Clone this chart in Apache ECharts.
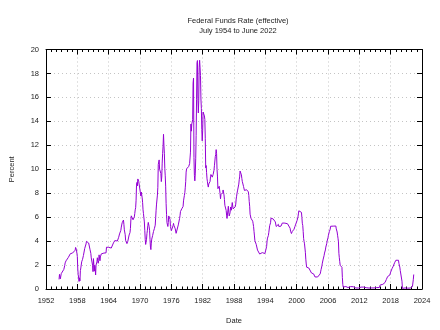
<!DOCTYPE html>
<html>
<head>
<meta charset="utf-8">
<script src="https://cdn.jsdelivr.net/npm/echarts@6/dist/echarts.min.js"></script>
<style>html,body{margin:0;padding:0;background:#fff}#c{width:440px;height:330px}</style>
</head>
<body>
<div id="c"></div>
<script>
// Monthly effective federal funds rate (percent), starting July 1954
var startYear = 1954, startMonth = 7;
var rates1950s = [
  0.80,1.22,1.07,0.85,0.83,1.28,
  1.39,1.29,1.35,1.43,1.43,1.64,1.68,1.96,2.18,2.24,2.35,2.48,
  2.45,2.50,2.50,2.62,2.75,2.71,2.75,2.73,2.95,2.96,2.88,2.94,
  2.84,3.00,2.96,3.00,3.00,3.00,2.99,3.24,3.47,3.50,3.28,2.98,
  2.72,1.67,1.20,1.26,0.63,0.93,0.68,1.53,1.76,1.80,2.27,2.42,
  2.48,2.43,2.80,2.96,2.90,3.39,3.47,3.50,3.76,3.98,4.00,3.99
];
var rates1960s = [
  3.99,3.97,3.84,3.92,3.85,3.32,3.23,2.98,2.60,2.47,2.44,1.98,
  1.45,2.54,2.02,1.49,1.98,1.73,1.17,2.00,1.88,2.26,2.61,2.33,
  2.15,2.37,2.85,2.78,2.36,2.68,2.71,2.93,2.90,2.90,2.94,2.93,
  2.92,3.00,2.98,2.90,3.00,2.99,3.02,3.49,3.48,3.50,3.48,3.38,
  3.48,3.48,3.43,3.47,3.50,3.50,3.42,3.50,3.45,3.36,3.52,3.85,
  3.90,3.98,4.04,4.09,4.10,4.04,4.09,4.12,4.01,4.08,4.10,4.32,
  4.42,4.60,4.65,4.67,4.90,5.17,5.30,5.53,5.40,5.53,5.76,5.40,
  4.94,5.00,4.53,4.05,3.94,3.98,3.79,3.90,3.99,3.88,4.13,4.51,
  4.60,4.71,5.05,5.76,6.11,6.07,6.02,6.03,5.78,5.91,5.82,6.02,
  6.30,6.61,6.79,7.41,8.67,8.90,8.61,9.19,9.15,9.00,8.85,8.97
];
var rates1970s = [
  8.98,8.98,7.76,8.10,7.95,7.61,7.21,6.61,6.29,6.20,5.60,4.90,
  4.14,3.72,3.71,4.16,4.63,4.91,5.31,5.56,5.55,5.20,4.91,4.14,
  3.50,3.29,3.83,4.17,4.27,4.46,4.55,4.80,4.87,5.04,5.06,5.33,
  5.94,6.58,7.09,7.12,7.84,8.49,10.40,10.50,10.78,10.01,10.03,9.95,
  9.65,8.97,9.35,10.51,11.31,11.93,12.92,12.01,11.34,10.06,9.45,8.53,
  7.13,6.24,5.54,5.49,5.22,5.55,6.10,6.14,6.24,5.82,5.22,5.20,
  4.87,4.77,4.84,4.82,5.29,5.48,5.31,5.29,5.25,5.02,4.95,4.65,
  4.61,4.68,4.69,4.73,5.35,5.39,5.42,5.90,6.14,6.47,6.51,6.56,
  6.70,6.78,6.79,6.89,7.36,7.60,7.81,8.04,8.45,8.96,9.76,10.03,
  10.07,10.06,10.09,10.01,10.24,10.29,10.47,10.94,11.43,13.77,13.18,13.78
];
var rates1980s = [
  13.82,14.13,17.19,17.61,10.98,9.47,9.03,9.61,10.87,12.81,15.85,18.90,
  19.08,15.93,14.70,15.72,18.52,19.10,19.04,17.82,15.87,15.08,13.31,12.37,
  13.22,14.78,14.68,14.94,14.45,14.15,12.59,10.12,10.31,9.71,9.20,8.95,
  8.68,8.51,8.77,8.80,8.63,8.98,9.37,9.56,9.45,9.48,9.34,9.47,
  9.56,9.59,9.91,10.29,10.32,11.06,11.23,11.64,11.30,9.99,9.43,8.38,
  8.35,8.50,8.58,8.27,7.97,7.53,7.88,7.90,7.92,7.99,8.05,8.27,
  8.14,7.86,7.48,6.99,6.85,6.92,6.56,6.17,5.89,5.85,6.04,6.91,
  6.43,6.10,6.13,6.37,6.85,6.73,6.58,6.73,7.22,7.29,6.69,6.77,
  6.83,6.58,6.58,6.87,7.09,7.51,7.75,8.01,8.19,8.30,8.35,8.76,
  9.12,9.36,9.85,9.84,9.81,9.53,9.24,8.99,9.02,8.84,8.55,8.45
];
var rates1990s = [
  8.23,8.24,8.28,8.26,8.18,8.29,8.15,8.13,8.20,8.11,7.81,7.31,
  6.91,6.25,6.12,5.91,5.78,5.90,5.82,5.66,5.45,5.21,4.81,4.43,
  4.03,4.06,3.98,3.73,3.82,3.76,3.25,3.30,3.22,3.10,3.09,2.92,
  3.02,3.03,3.07,2.96,3.00,3.04,3.06,3.03,3.09,2.99,3.02,2.96,
  3.05,3.25,3.34,3.56,4.01,4.25,4.26,4.47,4.73,4.76,5.29,5.45,
  5.53,5.92,5.98,6.05,6.01,6.00,5.85,5.74,5.80,5.76,5.80,5.60,
  5.56,5.22,5.31,5.22,5.24,5.27,5.40,5.22,5.30,5.24,5.31,5.29,
  5.25,5.19,5.39,5.51,5.50,5.56,5.52,5.54,5.54,5.50,5.52,5.50,
  5.56,5.51,5.49,5.45,5.49,5.56,5.54,5.55,5.51,5.07,4.83,4.68,
  4.63,4.76,4.81,4.74,4.74,4.76,4.99,5.07,5.22,5.20,5.42,5.30
];
var rates2000s = [
  5.45,5.73,5.85,6.02,6.27,6.53,6.54,6.50,6.52,6.51,6.51,6.40,
  5.98,5.49,5.31,4.80,4.21,3.97,3.77,3.65,3.07,2.49,2.09,1.82,
  1.73,1.74,1.73,1.75,1.75,1.75,1.73,1.74,1.75,1.75,1.34,1.24,
  1.24,1.26,1.25,1.26,1.26,1.22,1.01,1.03,1.01,1.01,1.00,0.98,
  1.00,1.01,1.00,1.00,1.00,1.03,1.26,1.43,1.61,1.76,1.93,2.16,
  2.28,2.50,2.63,2.79,3.00,3.04,3.26,3.50,3.62,3.78,4.00,4.16,
  4.29,4.49,4.59,4.79,4.94,4.99,5.24,5.25,5.25,5.25,5.25,5.24,
  5.25,5.26,5.26,5.25,5.25,5.25,5.26,5.02,4.94,4.76,4.49,4.24,
  3.94,2.98,2.61,2.28,1.98,2.00,2.01,2.00,1.81,0.97,0.39,0.16,
  0.15,0.22,0.18,0.15,0.18,0.21,0.16,0.16,0.15,0.12,0.12,0.12
];
var rates2010s = [
  0.11,0.13,0.16,0.20,0.20,0.18,0.18,0.19,0.19,0.19,0.19,0.18,
  0.17,0.16,0.14,0.10,0.09,0.09,0.07,0.10,0.08,0.07,0.08,0.07,
  0.08,0.10,0.13,0.14,0.16,0.16,0.16,0.13,0.14,0.16,0.16,0.16,
  0.14,0.15,0.14,0.15,0.11,0.09,0.09,0.08,0.08,0.09,0.08,0.09,
  0.07,0.07,0.08,0.09,0.09,0.10,0.09,0.09,0.09,0.09,0.09,0.12,
  0.11,0.11,0.11,0.12,0.12,0.13,0.13,0.14,0.14,0.12,0.12,0.24,
  0.34,0.38,0.36,0.37,0.37,0.38,0.39,0.40,0.40,0.40,0.41,0.54,
  0.65,0.66,0.79,0.90,0.91,1.04,1.15,1.16,1.15,1.15,1.16,1.30,
  1.41,1.42,1.51,1.69,1.70,1.82,1.91,1.91,1.95,2.19,2.20,2.27,
  2.40,2.40,2.41,2.42,2.39,2.38,2.40,2.13,2.04,1.83,1.55,1.55
];
var rates2020s = [
  1.55,1.58,0.65,0.05,0.05,0.08,0.09,0.10,0.09,0.09,0.09,0.09,
  0.09,0.08,0.07,0.07,0.06,0.08,0.10,0.09,0.08,0.08,0.08,0.08,
  0.08,0.08,0.20,0.33,0.77,1.21
];
var xTicks = [1952,1958,1964,1970,1976,1982,1988,1994,2000,2006,2012,2018,2024];
var yTicks = [0,2,4,6,8,10,12,14,16,18,20];
var titleText = 'Federal Funds Rate (effective)';
var subtitleText = 'July 1954 to June 2022';
var xName = 'Date', yName = 'Percent';

var all = [].concat(rates1950s, rates1960s, rates1970s, rates1980s, rates1990s, rates2000s, rates2010s, rates2020s);
var data = all.map(function (v, i) {
  var m = (startMonth - 1) + i;
  return [startYear + m / 12, v];
});

var FONT = 'Liberation Sans, Arial, sans-serif';
var TXT = '#222';
var gridLine = { show: true, lineStyle: { color: '#c4c4c4', width: 1, type: [1, 3] } };

var chart = echarts.init(document.getElementById('c'), null, { renderer: 'canvas' });
chart.setOption({
  animation: false,
  backgroundColor: '#fff',
  title: [
    { text: titleText, left: 233, top: 12, textAlign: 'center',
      textStyle: { fontFamily: FONT, fontSize: 7.5, fontWeight: 'normal', color: TXT } },
    { text: subtitleText, left: 233, top: 22, textAlign: 'center',
      textStyle: { fontFamily: FONT, fontSize: 7.5, fontWeight: 'normal', color: TXT } }
  ],
  grid: { left: 44, right: 18, top: 49.5, bottom: 40, containLabel: false },
  xAxis: [
    { type: 'value', min: xTicks[0], max: xTicks[xTicks.length - 1], interval: 6,
      name: xName, nameLocation: 'middle', nameGap: 28,
      nameTextStyle: { fontFamily: FONT, fontSize: 7.5, color: TXT },
      axisLine: { show: true, onZero: false, lineStyle: { color: '#000', width: 1 } },
      axisTick: { show: true, inside: true, length: 5, lineStyle: { color: '#000' } },
      minorTick: { show: true, splitNumber: 6, length: 2.5, lineStyle: { color: '#000' } },
      axisLabel: { fontFamily: FONT, fontSize: 7.5, color: TXT, margin: 8,
        formatter: function (v) { return String(v); } },
      splitLine: gridLine },
    { type: 'value', position: 'top', min: xTicks[0], max: xTicks[xTicks.length - 1], interval: 6,
      axisLine: { show: true, onZero: false, lineStyle: { color: '#000', width: 1 } },
      axisTick: { show: true, inside: true, length: 5, lineStyle: { color: '#000' } },
      minorTick: { show: true, splitNumber: 6, length: 2.5, lineStyle: { color: '#000' } },
      axisLabel: { show: false }, splitLine: { show: false } }
  ],
  yAxis: [
    { type: 'value', min: yTicks[0], max: yTicks[yTicks.length - 1], interval: 2,
      name: yName, nameLocation: 'middle', nameGap: 30, nameRotate: 90,
      nameTextStyle: { fontFamily: FONT, fontSize: 7.5, color: TXT },
      axisLine: { show: true, onZero: false, lineStyle: { color: '#000', width: 1 } },
      axisTick: { show: true, inside: true, length: 5, lineStyle: { color: '#000' } },
      axisLabel: { fontFamily: FONT, fontSize: 7.5, color: TXT, margin: 7 },
      splitLine: gridLine },
    { type: 'value', position: 'right', min: yTicks[0], max: yTicks[yTicks.length - 1], interval: 2,
      axisLine: { show: true, onZero: false, lineStyle: { color: '#000', width: 1 } },
      axisTick: { show: true, inside: true, length: 5, lineStyle: { color: '#000' } },
      axisLabel: { show: false }, splitLine: { show: false } }
  ],
  series: [{
    type: 'line', xAxisIndex: 0, yAxisIndex: 0, data: data,
    showSymbol: false, symbol: 'none',
    lineStyle: { color: '#9400d3', width: 1 },
    itemStyle: { color: '#9400d3' }
  }]
});
</script>
</body>
</html>
